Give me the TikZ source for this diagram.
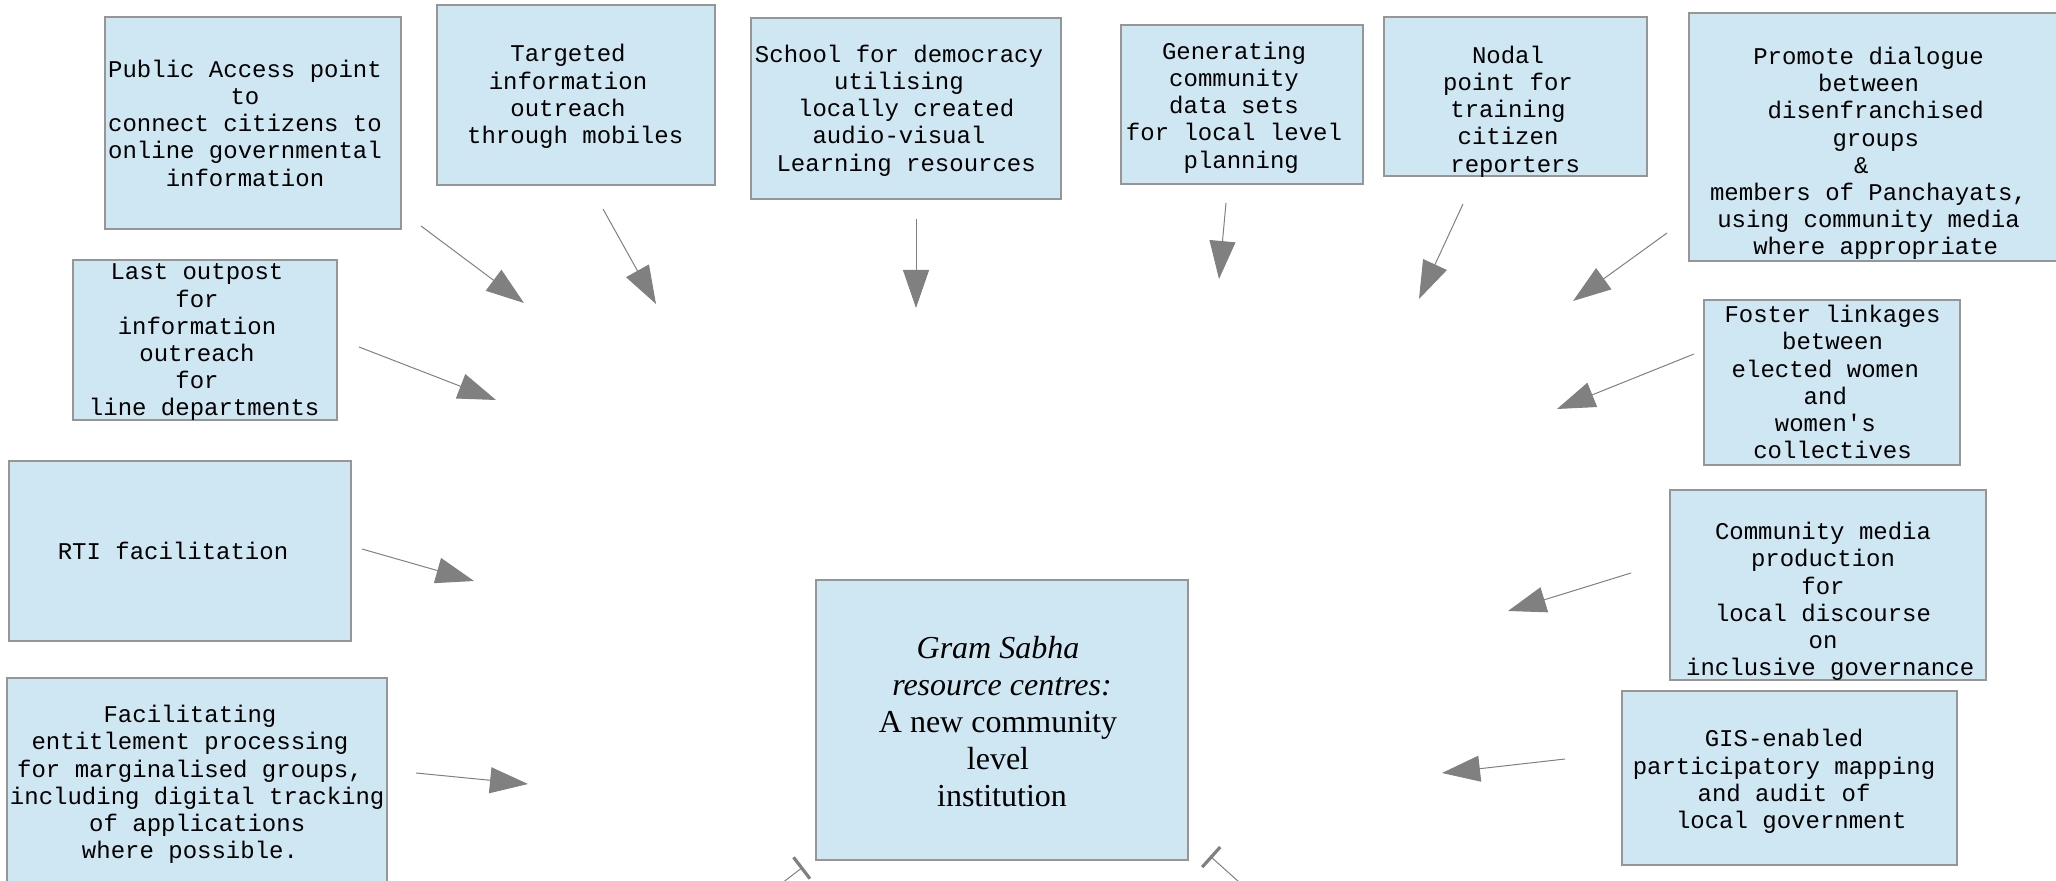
\documentclass[tikz,border=0pt]{standalone}
\usepackage{fontspec}
\setmainfont{Liberation Serif}
\newfontfamily\monofont{Liberation Mono}[Ligatures=TeXOff]
\usetikzlibrary{arrows.meta,fit}
\definecolor{boxfill}{RGB}{207,230,243}
\definecolor{boxline}{RGB}{150,150,150}
\definecolor{arrowgray}{RGB}{128,128,128}
% fixed-width padding used for leading/trailing blanks in centred lines
\newcommand\monogap{\hbox to 0.6em{}}
\newcommand\serifgap{\hbox to 0.25em{}}

\begin{document}
\begin{tikzpicture}[x=0.5pt,y=-0.5pt,
  panel/.style={draw=boxline, fill=boxfill, line width=0.6pt, inner sep=0pt},
  monotext/.style={align=center, inner sep=0pt, text=black, yshift=-1.5pt,
    font={\monofont\fontsize{12pt}{13.6pt}\selectfont\lineskiplimit=-\maxdimen},
    execute at begin node=\strut, execute at end node=\strut},
  seriftext/.style={align=center, inner sep=0pt, text=black, yshift=-1.2pt,
    font={\fontsize{16pt}{18.5pt}\selectfont\lineskiplimit=-\maxdimen},
    execute at begin node=\strut, execute at end node=\strut},
  conn/.style={draw=arrowgray, line width=0.5pt, -{Triangle[length=19pt,width=13pt]}},
  barend/.style={draw=arrowgray, line width=0.5pt, -{Bar[width=13.5pt,line width=1.6pt]}}
]
\useasboundingbox (0,0) rectangle (2056,881);
\clip (0,0) rectangle (2056,881);

% ---- boxes ----
\node[panel, fit={(105,17) (401,229)}]   (pa)  {};
\node[panel, fit={(437,5) (715,185)}]    (tg)  {};
\node[panel, fit={(751,18) (1061,199)}]  (sc)  {};
\node[panel, fit={(1121,25) (1363,184)}] (gn)  {};
\node[panel, fit={(1384,17) (1647,176)}] (nd)  {};
\node[panel, fit={(1689,13) (2066,261)}] (pr)  {};
\node[panel, fit={(73,260) (337,420)}]   (lo)  {};
\node[panel, fit={(1704,300) (1960,465)}] (fo) {};
\node[panel, fit={(9,461) (351,641)}]    (rt)  {};
\node[panel, fit={(1670,490) (1986,680)}] (cm) {};
\node[panel, fit={(7,678) (387,895)}]    (fa)  {};
\node[panel, fit={(1622,691) (1957,865)}] (gs) {};
\node[panel, fit={(816,580) (1188,860)}] (ctr) {};

% ---- texts ----
\node[monotext] (pa-t) at (245,124) {Public Access point\\to\\connect citizens to\\online governmental\\information};
\node[monotext] (tg-t) at (568,95) {Targeted\\information\\outreach\\\monogap through mobiles};
\node[monotext] (sc-t) at (899,109) {School for democracy\\utilising\\\monogap locally created\\audio-visual\\\monogap Learning resources};
\node[monotext] (gn-t) at (1234,106) {Generating\\community\\data sets\\for local level\\\monogap planning};
\node[monotext] (nd-t) at (1508,110) {Nodal\\point for\\training\\citizen\\\monogap reporters};
\node[monotext] (pr-t) at (1868.5,152) {Promote dialogue\\between\\\monogap disenfranchised\\\monogap groups\\\&\monogap\\members of Panchayats,\\using community media\\\monogap where appropriate};
\node[monotext] (lo-t) at (197,341) {Last outpost\\for\\information\\outreach\\for\\\monogap line departments};
\node[monotext] (fo-t) at (1832.5,383) {Foster linkages\\between\\elected women\monogap\\and\monogap\\women's\monogap\\collectives};
\node[monotext] (rt-t) at (173,551) {RTI facilitation};
\node[monotext] (fa-t) at (190,783) {Facilitating\\entitlement processing\\for marginalised groups,\\\monogap including digital tracking\\\monogap of applications\\where possible.};
\node[monotext] (cm-t) at (1823,600) {Community media\\production\\for\\local discourse\\on\\\monogap inclusive governance};
\node[monotext] (gs-t) at (1784,780) {GIS-enabled\\participatory mapping\\and audit of\\\monogap local government};
\node[seriftext] (ctr-t) at (998,725) {\textit{Gram Sabha}\\\serifgap\textit{resource centres:}\\A new community\\level\\\serifgap institution};

% ---- connector end points ----
\coordinate (pa-s) at (421,226);  \coordinate (pa-e) at (524,303);
\coordinate (tg-s) at (603,209);  \coordinate (tg-e) at (656,304);
\coordinate (sc-s) at (916,219);  \coordinate (sc-e) at (916,308);
\coordinate (gn-s) at (1226,203); \coordinate (gn-e) at (1219,279);
\coordinate (nd-s) at (1463,204); \coordinate (nd-e) at (1419,299);
\coordinate (pr-s) at (1667,233); \coordinate (pr-e) at (1573,301);
\coordinate (lo-s) at (359,347);  \coordinate (lo-e) at (496,400);
\coordinate (fo-s) at (1694,354); \coordinate (fo-e) at (1557,409);
\coordinate (rt-s) at (362,549);  \coordinate (rt-e) at (474,581);
\coordinate (cm-s) at (1631,573); \coordinate (cm-e) at (1508,611);
\coordinate (fa-s) at (416,773);  \coordinate (fa-e) at (528,784);
\coordinate (gs-s) at (1565,759); \coordinate (gs-e) at (1442,773);
\coordinate (bl-s) at (760,900);  \coordinate (bl-e) at (803,867);
\coordinate (br-s) at (1259,900); \coordinate (br-e) at (1210,856);

% ---- connectors ----
\draw[conn] (pa-s) -- (pa-e);
\draw[conn] (tg-s) -- (tg-e);
\draw[conn] (sc-s) -- (sc-e);
\draw[conn] (gn-s) -- (gn-e);
\draw[conn] (nd-s) -- (nd-e);
\draw[conn] (pr-s) -- (pr-e);
\draw[conn] (lo-s) -- (lo-e);
\draw[conn] (fo-s) -- (fo-e);
\draw[conn] (rt-s) -- (rt-e);
\draw[conn] (cm-s) -- (cm-e);
\draw[conn] (fa-s) -- (fa-e);
\draw[conn] (gs-s) -- (gs-e);
\draw[barend] (bl-s) -- (bl-e);
\draw[barend] (br-s) -- (br-e);
\end{tikzpicture}
\end{document}
